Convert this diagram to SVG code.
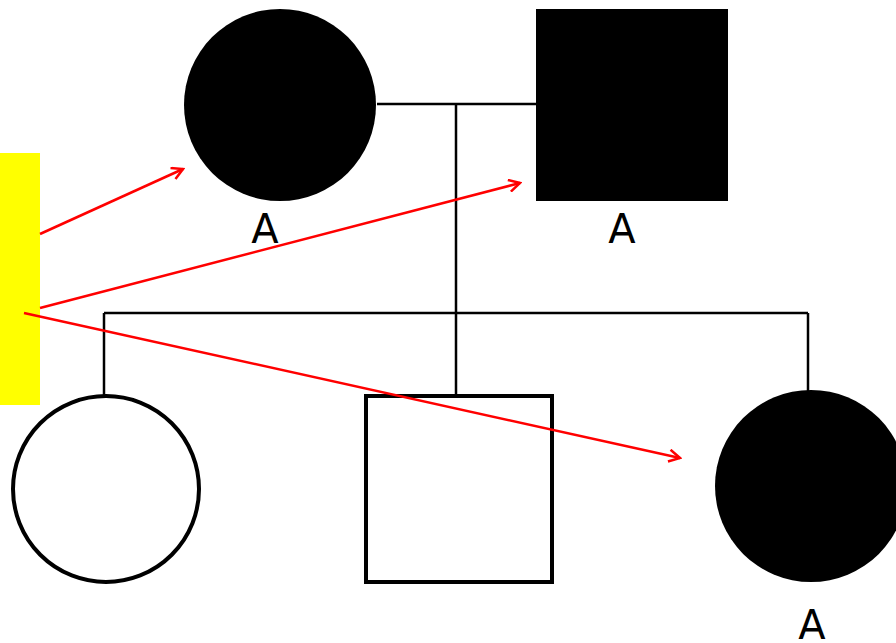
<svg xmlns="http://www.w3.org/2000/svg" width="896" height="643" viewBox="0 0 896 643">
<style>
.ln{stroke:#000;stroke-width:2.5;fill:none}
.red{stroke:#ff0000;stroke-width:2.5;fill:none}
.lbl{font-family:"DejaVu Sans",sans-serif;font-size:40px;fill:#000;text-anchor:middle}
.open{fill:#fff;stroke:#000;stroke-width:4}
</style>
<defs>
<marker id="ah" markerWidth="14" markerHeight="14" refX="12" refY="7" orient="auto" markerUnits="userSpaceOnUse">
<path d="M1,1 L12,7 L1,13" fill="none" stroke="#ff0000" stroke-width="2.5"/>
</marker>
</defs>
<rect width="896" height="643" fill="#fff"/>
<g id="connectors">
<line class="ln" x1="377" y1="104" x2="536" y2="104"/>
<line class="ln" x1="456" y1="104" x2="456" y2="395"/>
<line class="ln" x1="104" y1="313" x2="808" y2="313"/>
<line class="ln" x1="104" y1="313" x2="104" y2="396"/>
<line class="ln" x1="808" y1="313" x2="808" y2="391"/>
</g>
<g id="father-mother">
<g id="mother"><circle cx="280" cy="105" r="96" fill="#000"/><text class="lbl" x="265" y="243">A</text></g>
<g id="father"><rect x="536" y="9" width="192" height="192" fill="#000"/><text class="lbl" x="622" y="243">A</text></g>
</g>
<g id="child1"><circle class="open" cx="106" cy="489" r="93"/></g>
<g id="child2"><rect class="open" x="366" y="396" width="186" height="186"/></g>
<g id="child3"><circle cx="811" cy="486" r="96" fill="#000"/><text class="lbl" x="812" y="639">A</text></g>
<g id="highlight"><rect x="0" y="153" width="40" height="252" fill="#ffff00"/></g>
<g id="arrows">
<line class="red" x1="40" y1="234" x2="183" y2="169" marker-end="url(#ah)"/>
<line class="red" x1="40" y1="308" x2="520" y2="183" marker-end="url(#ah)"/>
<line class="red" x1="24" y1="313" x2="680" y2="458" marker-end="url(#ah)"/>
</g>
</svg>
